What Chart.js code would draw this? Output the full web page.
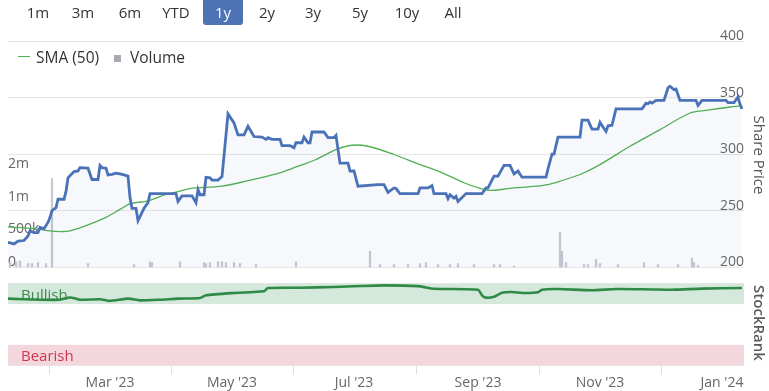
<!DOCTYPE html>
<html>
<head>
<meta charset="utf-8">
<script src="https://cdn.jsdelivr.net/npm/chart.js@4/dist/chart.umd.min.js"></script>
<style>
html,body{margin:0;padding:0;background:#fff;}
#wrap{position:relative;width:769px;height:391px;overflow:hidden;font-family:'Open Sans',sans-serif;}
#c{position:absolute;left:0;top:0;}
.btn{position:absolute;top:0;height:25px;width:40px;line-height:24px;text-align:center;font-size:15px;color:#333;}
.btn.sel{background:#4d72b6;color:#fff;border-radius:0 0 3px 3px;}
.leg{position:absolute;top:46px;height:22px;line-height:22px;font-size:15px;color:#333;white-space:nowrap;}
.legline{position:absolute;left:18px;top:56px;width:12px;height:0;border-top:1.5px solid #52b152;}
.legsq{position:absolute;left:114px;top:55px;width:7px;height:7px;background:#a9a9b1;}
.ttl{position:absolute;height:20px;line-height:20px;text-align:center;font-size:15px;color:#555;transform:rotate(90deg);white-space:nowrap;}
</style>
</head>
<body>
<div id="wrap">
  <canvas id="c" width="769" height="391"></canvas>
</div>
<script>
// ---------------- data ----------------
const rangeButtons = ['1m','3m','6m','YTD','1y','2y','3y','5y','10y','All'];
const rangeButtonCenters = [38, 83, 130, 176, 223, 267, 313, 360, 407, 453];
const selectedRange = '1y';

const priceDates = [
 '2023-01-09','2023-01-12','2023-01-14','2023-01-17','2023-01-19','2023-01-20','2023-01-22','2023-01-24','2023-01-25','2023-01-27',
 '2023-01-29','2023-01-30','2023-01-31','2023-02-02','2023-02-03','2023-02-06','2023-02-07','2023-02-08','2023-02-11','2023-02-13',
 '2023-02-14','2023-02-18','2023-02-20','2023-02-23','2023-02-24','2023-02-25','2023-02-27','2023-02-28','2023-03-02','2023-03-04',
 '2023-03-06','2023-03-08','2023-03-10','2023-03-11','2023-03-12','2023-03-14','2023-03-15','2023-03-18','2023-03-20','2023-03-21',
 '2023-03-26','2023-04-03','2023-04-04','2023-04-06','2023-04-11','2023-04-13','2023-04-14','2023-04-15','2023-04-17','2023-04-18',
 '2023-04-20','2023-04-21','2023-04-24','2023-04-26','2023-04-28','2023-04-29','2023-05-02','2023-05-04','2023-05-07','2023-05-09',
 '2023-05-12','2023-05-16','2023-05-18','2023-05-19','2023-05-21','2023-05-25','2023-05-26','2023-05-30','2023-06-01','2023-06-02',
 '2023-06-05','2023-06-06','2023-06-08','2023-06-09','2023-06-10','2023-06-16','2023-06-18','2023-06-21','2023-06-22','2023-06-24',
 '2023-06-28','2023-06-29','2023-07-01','2023-07-03','2023-07-13','2023-07-16','2023-07-18','2023-07-21','2023-07-22','2023-07-24',
 '2023-08-02','2023-08-03','2023-08-07','2023-08-09','2023-08-10','2023-08-16','2023-08-17','2023-08-18','2023-08-20','2023-08-21',
 '2023-08-22','2023-08-26','2023-09-03','2023-09-05','2023-09-06','2023-09-09','2023-09-11','2023-09-14','2023-09-17','2023-09-19',
 '2023-09-21','2023-09-23','2023-10-05','2023-10-06','2023-10-08','2023-10-09','2023-10-11','2023-10-22','2023-10-23','2023-10-26',
 '2023-10-28','2023-10-31','2023-11-01','2023-11-04','2023-11-05','2023-11-07','2023-11-09','2023-11-22','2023-11-24','2023-11-25',
 '2023-11-26','2023-11-27','2023-11-29','2023-12-03','2023-12-05','2023-12-06','2023-12-08','2023-12-09','2023-12-11','2023-12-19',
 '2023-12-20','2023-12-22','2024-01-03','2024-01-04','2024-01-07','2024-01-09','2024-01-10','2024-01-11'
];
const priceValues = [
 222,220.5,223,223.5,227.5,232,230.5,230.5,235,234,
 239.5,244,250,252.5,260,260,267,279,284.5,285,
 288,287.5,277.5,277.5,290,288,287.5,281.5,282,283,
 282.5,281.5,280.5,261.5,252,252,241,252,257,265,
 265,265,258,263,263,257,268.5,264,264,279.5,
 279,277,277,280,317,335.5,327.5,317,317,324.5,
 315.5,315,313,314.5,313,313,307.5,307.5,305.5,310,
 310,315,310,310,319.5,319.5,314.5,314.5,316.5,292,
 292,285,285,271.5,273,273,266,270,269.5,265,
 265,270,270,272,265,265,260.5,264,261,262.5,
 258,265,265,270,270,280.5,280.5,290,290,282.5,
 285,279.5,279.5,287,300,300,315,315,330,330,
 322,322,328,320,325,325.5,340,340,345,344.5,
 346,345,347.5,347.5,358.5,360,357,357.5,347.5,347.5,
 343,347.5,347.5,345.5,345.5,350.5,344,340
];

const smaDates = [
 '2023-01-09','2023-01-22','2023-01-30','2023-02-04','2023-02-09','2023-02-19','2023-02-27','2023-03-06','2023-03-11','2023-03-20',
 '2023-03-29','2023-04-05','2023-04-10','2023-04-26','2023-05-08','2023-05-25','2023-05-31','2023-06-12','2023-06-22','2023-06-30',
 '2023-07-08','2023-07-21','2023-08-02','2023-08-13','2023-08-25','2023-09-01','2023-09-07','2023-09-17','2023-09-30','2023-10-06',
 '2023-10-12','2023-10-22','2023-11-01','2023-11-16','2023-12-01','2023-12-16','2023-12-24','2024-01-05','2024-01-11'
];
const smaValues = [
 235.5,234,232,231.4,232,238,244,251,256,258.5,
 264.3,267.2,269.5,271.6,276,283.4,287.2,295.2,304,307.8,
 306.9,299.6,291.4,284.3,274.6,270.2,267.8,269.6,271.6,273,
 276,281.9,290.7,306.9,321.6,336.3,338.6,341.6,342.7
];

const volumeDates = [
 '2023-01-10','2023-01-13','2023-01-15','2023-01-19','2023-01-21','2023-01-24','2023-01-28','2023-01-31','2023-02-18','2023-03-13',
 '2023-03-21','2023-03-22','2023-04-05','2023-04-17','2023-04-18','2023-04-20','2023-04-24','2023-04-26','2023-04-28','2023-05-02',
 '2023-05-05','2023-05-13','2023-06-02','2023-07-09','2023-07-14','2023-07-21','2023-07-28','2023-08-03','2023-08-06','2023-08-12',
 '2023-08-18','2023-08-22','2023-08-30','2023-09-09','2023-09-12','2023-09-19','2023-10-12','2023-10-13','2023-10-15','2023-10-24',
 '2023-10-26','2023-10-30','2023-11-01','2023-11-10','2023-11-23','2023-11-30','2023-12-10','2023-12-17','2023-12-18','2023-12-20'
];
const volumeValues = [
 276000,280000,286000,270000,270000,276000,270000,1660000,270000,264000,
 280000,276000,280000,276000,270000,276000,280000,280000,276000,276000,
 270000,264000,280000,351000,264000,264000,264000,270000,276000,264000,
 264000,270000,264000,264000,264000,255000,527000,351000,276000,264000,
 264000,296000,270000,264000,276000,264000,264000,303000,276000,260000
];

const rankDates = [
 '2023-01-09','2023-01-25','2023-02-04','2023-02-08','2023-02-10','2023-02-14','2023-02-24','2023-03-01','2023-03-10','2023-03-16',
 '2023-03-26','2023-04-04','2023-04-15','2023-04-18','2023-05-02','2023-05-17','2023-05-19','2023-06-04','2023-06-21','2023-07-04',
 '2023-07-16','2023-08-02','2023-08-10','2023-09-01','2023-09-03','2023-09-05','2023-09-09','2023-09-13','2023-09-18','2023-09-24',
 '2023-10-01','2023-10-03','2023-10-11','2023-10-28','2023-11-09','2023-11-27','2023-12-08','2023-12-22','2024-01-11'
];
const rankValues = [
 81.7,80.4,80.4,82.9,82.9,80.4,81,78.9,81.7,79.6,
 80.4,81.7,82.5,85.8,88.6,90.7,94.7,95.1,96,97.2,
 98,97,93.9,92.7,85.8,82.9,84,89,89.8,88.6,
 89.5,92.7,93.5,92,93.5,93,92.7,94,94.7
];

const priceTicks = [200, 250, 300, 350, 400];
const volumeTicks = [250000, 500000, 1000000, 2000000];   // lowest one is the floor of the volume axis
const volumeTickLabels = ['0', '500k', '1m', '2m'];
const rankTicks = [0, 100];
const rankTickLabels = ['0', ''];
const monthTicks = ['2023-03-01','2023-05-01','2023-07-01','2023-09-01','2023-11-01','2024-01-01'];
const monthNames = ['Jan','Feb','Mar','Apr','May','Jun','Jul','Aug','Sep','Oct','Nov','Dec'];
const xStart = '2023-01-09', xEnd = '2024-01-12';
const rankBands = [
  {label: 'Bullish', from: 75, to: 100, color: '#d5e8dc', text: '#3d8a4b'},
  {label: 'Bearish', from: 0, to: 25, color: '#f4d7dd', text: '#d0364f'}
];

// ---------------- layout of panes inside the plot ----------------
const pricePaneShare = 227 / 325.5;   // top part: price + volume
const rankPaneShare = 81.8 / 325.5;   // bottom part: StockRank
const priceMin = 200, priceMax = 400;
const volFloor = 250000, volTop = 31600000;

const toMs = s => { const [y, m, d] = s.split('-').map(Number); return Date.UTC(y, m - 1, d); };
const pts = (ds, vs) => ds.map((d, i) => ({x: toMs(d), y: vs[i]}));

const priceAxisMin = priceMin - (priceMax - priceMin) * (1 - pricePaneShare) / pricePaneShare;
const lLo = Math.log10(volFloor), lHi = Math.log10(volTop);
const volAxisMin = Math.pow(10, lLo - (lHi - lLo) * (1 - pricePaneShare) / pricePaneShare);
const rankAxisMax = 100 / rankPaneShare;

// ---------------- HTML overlays ----------------
const wrap = document.getElementById('wrap');
rangeButtons.forEach((b, i) => {
  const el = document.createElement('div');
  el.className = 'btn' + (b === selectedRange ? ' sel' : '');
  el.textContent = b;
  el.style.left = (rangeButtonCenters[i] - 20) + 'px';
  wrap.appendChild(el);
});
function addEl(cls, text, style) {
  const el = document.createElement('div'); el.className = cls;
  if (text) el.textContent = text;
  Object.assign(el.style, style || {}); wrap.appendChild(el); return el;
}
addEl('legline');
addEl('leg', 'SMA (50)', {left: '36px', fontSize: '15.5px'});
addEl('legsq');
addEl('leg', 'Volume', {left: '130px', fontSize: '15.5px'});
addEl('ttl', 'Share Price', {width: '100px', left: (760 - 50) + 'px', top: (155 - 10) + 'px'});
addEl('ttl', 'StockRank', {width: '90px', left: (760 - 45) + 'px', top: (323 - 10) + 'px', fontWeight: '600', color: '#5a5a5a'});

// ---------------- plugin: StockRank bands ----------------
const bandPlugin = {
  id: 'rankBands',
  beforeDatasetsDraw(chart) {
    const {ctx, chartArea: {left, right}} = chart;
    const rank = chart.scales.rank;
    ctx.save();
    rankBands.forEach(b => {
      const yT = rank.getPixelForValue(b.to), yB = rank.getPixelForValue(b.from);
      ctx.fillStyle = b.color;
      ctx.fillRect(left, yT, right - left, yB - yT);
      ctx.fillStyle = b.text;
      ctx.font = '15px "Open Sans"';
      ctx.textBaseline = 'middle';
      ctx.textAlign = 'left';
      ctx.fillText(b.label, left + 13, (yT + yB) / 2 + 2);
    });
    ctx.restore();
  }
};

const gridColor = '#e6e6e6';
const labelFont = {family: 'Open Sans', size: 14};

new Chart(document.getElementById('c'), {
  type: 'line',
  data: {
    datasets: [
      {
        label: 'Share Price', data: pts(priceDates, priceValues), yAxisID: 'price', order: 1,
        borderColor: '#4a72b8', borderWidth: 2.8, pointRadius: 0, tension: 0,
        fill: {value: priceMin}, backgroundColor: 'rgba(74,114,184,0.05)'
      },
      {
        label: 'SMA (50)', data: pts(smaDates, smaValues), yAxisID: 'price', order: 2,
        borderColor: '#52b152', borderWidth: 1.3, pointRadius: 0, tension: 0.3, fill: false
      },
      {
        type: 'bar', label: 'Volume', data: pts(volumeDates, volumeValues), yAxisID: 'vol', order: 3,
        backgroundColor: '#c9c9d0', barThickness: 1.6, base: volFloor, grouped: false
      },
      {
        label: 'StockRank', data: pts(rankDates, rankValues), yAxisID: 'rank', order: 1,
        borderColor: '#2e8a45', borderWidth: 2.6, pointRadius: 0, tension: 0.2, fill: false
      }
    ]
  },
  options: {
    responsive: false, animation: false, devicePixelRatio: 1,
    layout: {padding: {top: 41, left: 8, right: 25, bottom: 0}},
    plugins: {legend: {display: false}, tooltip: {enabled: false}},
    scales: {
      x: {
        type: 'linear', min: toMs(xStart), max: toMs(xEnd), offset: false, bounds: 'data',
        afterBuildTicks: s => { s.ticks = monthTicks.map(d => ({value: toMs(d)})); },
        ticks: {
          autoSkip: false, maxRotation: 0, padding: 0, color: '#666', font: labelFont,
          callback: v => { const d = new Date(v); return monthNames[d.getUTCMonth()] + " '" + String(d.getUTCFullYear()).slice(2); }
        },
        grid: {drawOnChartArea: false, drawTicks: true, tickLength: 9, color: '#d8dde6'},
        border: {display: true, color: gridColor}
      },
      vol: {
        type: 'logarithmic', position: 'left', min: volAxisMin, max: volTop, bounds: 'data',
        afterBuildTicks: s => { s.ticks = volumeTicks.map(v => ({value: v})); },
        ticks: {
          mirror: true, padding: 0, labelOffset: -5.5, autoSkip: false, color: '#666', font: labelFont,
          callback: (v) => { const i = volumeTicks.indexOf(v); return i >= 0 ? volumeTickLabels[i] : ''; }
        },
        grid: {display: false, drawTicks: false}, border: {display: false}
      },
      price: {
        type: 'linear', position: 'right', min: priceAxisMin, max: priceMax, bounds: 'data',
        afterBuildTicks: s => { s.ticks = priceTicks.map(v => ({value: v})); },
        ticks: {mirror: true, padding: 0, labelOffset: -5, autoSkip: false, color: '#666', font: labelFont},
        grid: {color: gridColor, drawTicks: false}, border: {display: false}
      },
      rank: {
        type: 'linear', position: 'right', min: 0, max: rankAxisMax, bounds: 'data',
        afterBuildTicks: s => { s.ticks = rankTicks.map(v => ({value: v})); },
        ticks: {
          mirror: true, padding: 0, labelOffset: -8.5, autoSkip: false, color: '#666', font: labelFont,
          callback: v => { const i = rankTicks.indexOf(v); return i >= 0 ? rankTickLabels[i] : ''; }
        },
        grid: {color: gridColor, drawTicks: false}, border: {display: false}
      }
    }
  },
  plugins: [bandPlugin]
});
</script>
</body>
</html>
